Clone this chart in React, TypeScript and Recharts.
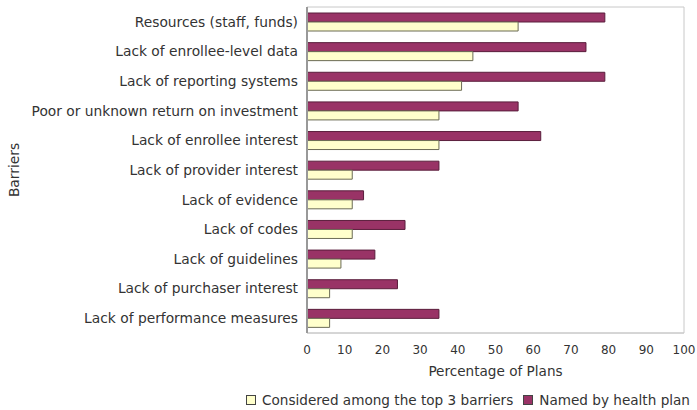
import { Bar, BarChart, ReferenceArea, XAxis, YAxis } from "recharts";

const barriers = [
  "Resources (staff, funds)",
  "Lack of enrollee-level data",
  "Lack of reporting systems",
  "Poor or unknown return on investment",
  "Lack of enrollee interest",
  "Lack of provider interest",
  "Lack of evidence",
  "Lack of codes",
  "Lack of guidelines",
  "Lack of purchaser interest",
  "Lack of performance measures",
];
const namedByPlan = [79, 74, 79, 56, 62, 35, 15, 26, 18, 24, 35];
const topThree = [56, 44, 41, 35, 35, 12, 12, 12, 9, 6, 6];
const xTicks = [0, 10, 20, 30, 40, 50, 60, 70, 80, 90, 100];

const data = barriers.map((name, i) => ({
  name,
  named: namedByPlan[i],
  top3: topThree[i],
}));

const FONT = "'DejaVu Sans', Verdana, sans-serif";
const TEXT = "#333";
const PURPLE = "#993366";
const YELLOW = "#FFFFCC";

// legend reads yellow first, though the purple bar sits on top in each band
const legendItems = [
  { label: "Considered among the top 3 barriers", color: YELLOW },
  { label: "Named by health plan", color: PURPLE },
];

// drawn outside the chart so it doesn't eat into the plot height
function LegendRow() {
  return (
    <div
      style={{
        position: "absolute",
        right: 7,
        top: 392,
        display: "flex",
        gap: 10,
        fontFamily: FONT,
        fontSize: 13.6,
        color: TEXT,
        whiteSpace: "nowrap",
      }}
    >
      {legendItems.map((it) => (
        <span key={it.label} style={{ display: "flex", alignItems: "center" }}>
          <span
            style={{
              display: "inline-block",
              width: 8,
              height: 8,
              background: it.color,
              border: "1px solid #444",
              marginRight: 6,
            }}
          />
          {it.label}
        </span>
      ))}
    </div>
  );
}

export default function App() {
  return (
    <div
      style={{
        position: "absolute",
        left: 0,
        top: 0,
        width: 697,
        height: 410,
        background: "#fff",
      }}
    >
      <BarChart
        width={697}
        height={410}
        data={data}
        layout="vertical"
        margin={{ top: 7, right: 13, bottom: 47, left: 0 }}
        barGap={0}
        barCategoryGap="30%"
      >
        <ReferenceArea
          x1={0}
          x2={100}
          fill="none"
          stroke="#c8c8c8"
          strokeWidth={1}
          ifOverflow="extendDomain"
        />
        <XAxis
          type="number"
          domain={[0, 100]}
          ticks={xTicks}
          interval={0}
          tickLine={false}
          axisLine={{ stroke: "#c8c8c8" }}
          tickMargin={6}
          tick={{ fill: TEXT, fontSize: 12, fontFamily: FONT }}
          label={{
            value: "Percentage of Plans",
            position: "insideBottom",
            offset: -13,
            style: { fill: TEXT, fontSize: 13.6, fontFamily: FONT },
          }}
        />
        <YAxis
          type="category"
          dataKey="name"
          width={307}
          interval={0}
          tickLine={false}
          axisLine={{ stroke: "#999", strokeWidth: 2 }}
          tickMargin={3}
          tick={{ fill: TEXT, fontSize: 13.8, fontFamily: FONT }}
          label={{
            value: "Barriers",
            angle: -90,
            position: "insideLeft",
            offset: 14,
            style: { fill: TEXT, fontSize: 13.8, fontFamily: FONT, textAnchor: "middle" },
          }}
        />
        <Bar
          dataKey="named"
          name="Named by health plan"
          fill={PURPLE}
          stroke="#5a1e3c"
          strokeWidth={1}
          barSize={9}
          isAnimationActive={false}
        />
        <Bar
          dataKey="top3"
          name="Considered among the top 3 barriers"
          fill={YELLOW}
          stroke="#6b6b55"
          strokeWidth={1}
          barSize={9}
          isAnimationActive={false}
        />
      </BarChart>
      <LegendRow />
    </div>
  );
}
